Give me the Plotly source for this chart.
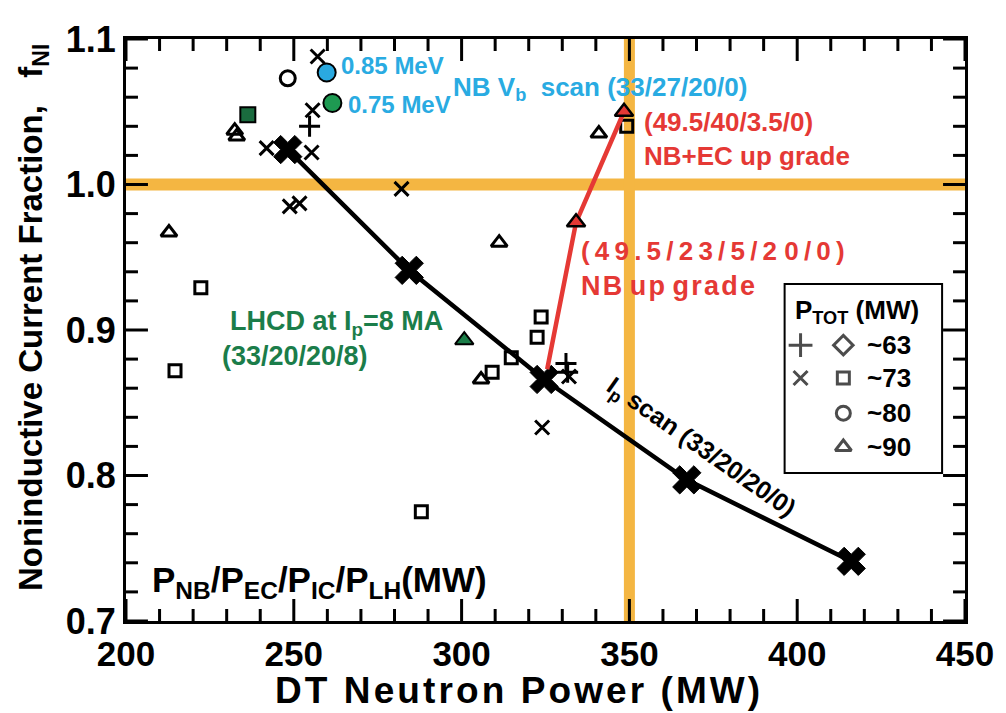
import plotly.graph_objects as go

FONT = "Liberation Sans, Arial, Helvetica, sans-serif"
BLACK = "#000000"
ORANGE = "#F4B642"
RED = "#E53935"
CYAN = "#29ABE2"
GREEN = "#1B7D4A"

# I_p scan (33/20/20/0)
ip_scan_x = [248.2, 284.4, 324.6, 367.1, 416.1]
ip_scan_y = [1.024, 0.941, 0.866, 0.797, 0.741]

# NB upgrade path (red)
nb_up_x = [325.5, 334.1, 348.4]
nb_up_y = [0.873, 0.974, 1.050]

# scattered database points by symbol
xmark_x = [257.1, 255.6, 241.9, 255.3, 248.8, 251.7, 282.1, 332.0, 324.0]
xmark_y = [1.088, 1.051, 1.025, 1.022, 0.985, 0.987, 0.997, 0.868, 0.833]

plus_x = [254.7, 331.1, 331.6]
plus_y = [1.040, 0.877, 0.871]

square_x = [349.2, 222.3, 214.6, 323.7, 322.5, 314.8, 309.1, 288.0]
square_y = [1.040, 0.929, 0.872, 0.909, 0.895, 0.881, 0.871, 0.775]

tri_x = [232.4, 233.0, 212.8, 311.2, 305.8, 340.9]
tri_y = [1.037, 1.033, 0.967, 0.960, 0.866, 1.035]

circle_x = [248.2]
circle_y = [1.073]

# NB Vb scan points
vb085_x, vb085_y = [259.8], [1.077]
vb075_x, vb075_y = [261.5], [1.056]

# LHCD points
lhcd_sq_x, lhcd_sq_y = [236.3], [1.048]
lhcd_tri_x, lhcd_tri_y = [300.8], [0.893]

# reference lines
target_fni = 1.0
target_power = 350

x_range = [200, 450]
y_range = [0.7, 1.1]
x_tick_step, x_minor_step = 50, 10
y_tick_step, y_minor_step = 0.1, 0.02

# legend
legend_rows = ["~63", "~73", "~80", "~90"]

W, HGT = 1006, 713
MARGIN = dict(l=126, r=39, t=39, b=92)
PLOT_W = W - MARGIN["l"] - MARGIN["r"]
PLOT_H = HGT - MARGIN["t"] - MARGIN["b"]

fig = go.Figure()

# inward ticks on all four sides (major + minor), drawn as one line trace;
# lengths in pixels are converted to axis units
MAJOR_LEN, MINOR_LEN, TICK_W = 22, 12, 3
DX = (x_range[1] - x_range[0]) / PLOT_W
DY = (y_range[1] - y_range[0]) / PLOT_H

def tick_list(lo, hi, step):
    n = int(round((hi - lo) / step))
    return [lo + i * step for i in range(n + 1)]

def is_major(v, lo, step):
    r = (v - lo) / step
    return abs(r - round(r)) < 1e-6

tick_x, tick_y = [], []
for v in tick_list(x_range[0], x_range[1], x_minor_step):
    L = MAJOR_LEN if is_major(v, x_range[0], x_tick_step) else MINOR_LEN
    tick_x += [v, v, None, v, v, None]
    tick_y += [y_range[0], y_range[0] + L * DY, None, y_range[1], y_range[1] - L * DY, None]
for v in tick_list(y_range[0], y_range[1], y_minor_step):
    L = MAJOR_LEN if is_major(v, y_range[0], y_tick_step) else MINOR_LEN
    tick_x += [x_range[0], x_range[0] + L * DX, None, x_range[1], x_range[1] - L * DX, None]
    tick_y += [v, v, None, v, v, None]

def open_markers(x, y, symbol, size, width=3):
    fig.add_trace(go.Scatter(
        x=x, y=y, mode="markers", showlegend=False, cliponaxis=False,
        marker=dict(symbol=symbol, size=size, color=BLACK,
                    line=dict(color=BLACK, width=width))))

open_markers(xmark_x, xmark_y, "x-thin-open", 14)
open_markers(plus_x, plus_y, "cross-thin-open", 15)
open_markers(square_x, square_y, "square-open", 12)
open_markers(tri_x, tri_y, "triangle-up-open", 14)
open_markers(circle_x, circle_y, "circle-open", 15)

# I_p scan line
fig.add_trace(go.Scatter(
    x=ip_scan_x, y=ip_scan_y, mode="lines+markers", showlegend=False,
    line=dict(color=BLACK, width=4.5),
    marker=dict(symbol="x", size=25, color=BLACK, line=dict(color=BLACK, width=1))))

# NB upgrade line
fig.add_trace(go.Scatter(
    x=nb_up_x, y=nb_up_y, mode="lines", showlegend=False,
    line=dict(color=RED, width=4.5)))
fig.add_trace(go.Scatter(
    x=nb_up_x[1:], y=nb_up_y[1:], mode="markers", showlegend=False,
    marker=dict(symbol="triangle-up", size=16, color=RED, line=dict(color=BLACK, width=2.5))))

def filled(x, y, symbol, size, color):
    fig.add_trace(go.Scatter(
        x=x, y=y, mode="markers", showlegend=False,
        marker=dict(symbol=symbol, size=size, color=color, line=dict(color=BLACK, width=2))))

filled(vb085_x, vb085_y, "circle", 18, "#2AA9E0")
filled(vb075_x, vb075_y, "circle", 18, "#1E9A52")
filled(lhcd_sq_x, lhcd_sq_y, "square", 15, "#1A6B3E")
filled(lhcd_tri_x, lhcd_tri_y, "triangle-up", 16, "#1A7D48")

# legend keys, placed by paper fraction and mapped through the axis ranges
def px(frac):
    return x_range[0] + frac * (x_range[1] - x_range[0])

def py(frac):
    return y_range[0] + frac * (y_range[1] - y_range[0])

leg_sym_fx = [0.804, 0.804, 0.855, 0.855, 0.855, 0.855]
leg_sym_fy = [0.474, 0.4175, 0.474, 0.4175, 0.357, 0.299]
leg_syms = ["cross-thin-open", "x-thin-open", "diamond-open", "square-open", "circle-open", "triangle-up-open"]
leg_sizes = [17, 14, 15, 12, 14, 14]
fig.add_trace(go.Scatter(
    x=[px(f) for f in leg_sym_fx], y=[py(f) for f in leg_sym_fy],
    mode="markers", showlegend=False,
    marker=dict(symbol=leg_syms, size=leg_sizes, color=BLACK,
                line=dict(color=BLACK, width=3))))

# axis ticks trace
fig.add_trace(go.Scatter(
    x=tick_x, y=tick_y, mode="lines", showlegend=False, hoverinfo="skip",
    connectgaps=False, cliponaxis=False,
    line=dict(color=BLACK, width=TICK_W)))

shapes = [
    dict(type="line", xref="x", yref="y", x0=x_range[0], x1=x_range[1], y0=target_fni, y1=target_fni,
         line=dict(color=ORANGE, width=12), layer="below"),
    dict(type="line", xref="x", yref="y", x0=target_power, x1=target_power, y0=y_range[0], y1=y_range[1],
         line=dict(color=ORANGE, width=11), layer="below"),
    dict(type="rect", xref="paper", yref="paper", x0=0.785, x1=0.9727, y0=0.2543, y1=0.579,
         line=dict(color=BLACK, width=2), fillcolor="white", layer="below"),
]

def ann(text, x, y, color, size, xanchor="left", yanchor="middle", xref="x", yref="y", angle=0, **kw):
    d = dict(text=text, x=x, y=y, xref=xref, yref=yref, showarrow=False,
             xanchor=xanchor, yanchor=yanchor, textangle=angle,
             font=dict(family=FONT, size=size, color=color, weight="bold"))
    d.update(kw)
    return d

T = "\u2009"
H = "\u200a"
annotations = [
    ann("0.85 MeV", 263.6, 1.082, CYAN, 24),
    ann("0.75 MeV", 265.7, 1.055, CYAN, 24),
    ann("NB V<sub>b</sub>  scan (33/27/20/0)", 296.9, 1.066, CYAN, 26),
    ann("(49.5/40/3.5/0)", 353.7, 1.043, RED, 26),
    ann("NB+EC up grade", 353.7, 1.0196, RED, 26),
    ann(T.join("(49.5/23/5/2") + " " + T.join("0/0)"), 335.0, 0.954, RED, 26),
    ann("N" + H + "B " + H.join("up") + " " + H.join("grade"), 335.0, 0.930, RED, 27),
    ann("LHCD at I<sub>p</sub>=8 MA", 230.3, 0.905, GREEN, 27),
    ann("(33/20/20/8)", 227.9, 0.882, GREEN, 27),
    ann("I<sub>p</sub> scan (33/20/20/0)", 371.2, 0.819, BLACK, 25, xanchor="center", angle=35),
    ann("P<sub>NB</sub>/P<sub>EC</sub>/P<sub>IC</sub>/P<sub>LH</sub>(MW)", 207.1, 0.727, BLACK, 35),
    # legend text
    ann("P<sub>TOT</sub> (MW)", 0.795, 0.532, BLACK, 26, xref="paper", yref="paper"),
    ann(legend_rows[0], 0.8811, 0.474, BLACK, 26, xref="paper", yref="paper"),
    ann(legend_rows[1], 0.8811, 0.4175, BLACK, 26, xref="paper", yref="paper"),
    ann(legend_rows[2], 0.8811, 0.357, BLACK, 26, xref="paper", yref="paper"),
    ann(legend_rows[3], 0.8811, 0.299, BLACK, 26, xref="paper", yref="paper"),
    # axis titles
    ann(H.join("DT Neutron Power (MW)"), 0.467, 0, BLACK, 37, xanchor="center",
        xref="paper", yref="paper", yshift=-69),
    ann("Noninductive Current Fraction,   f<sub>NI</sub>", 0, 0.5, BLACK, 33, xanchor="center",
        xref="paper", yref="paper", angle=-90, xshift=-93, yshift=12),
]

fig.update_layout(
    width=W, height=HGT,
    margin=MARGIN,
    paper_bgcolor="white", plot_bgcolor="white",
    xaxis=dict(range=x_range, tickmode="linear", tick0=x_range[0], dtick=x_tick_step,
               showline=True, linecolor=BLACK, linewidth=3, mirror=True, ticks="",
               showgrid=False, zeroline=False,
               tickfont=dict(family=FONT, size=35, color=BLACK, weight="bold")),
    yaxis=dict(range=y_range, tickmode="linear", tick0=y_range[0], dtick=y_tick_step, tickformat=".1f",
               showline=True, linecolor=BLACK, linewidth=3, mirror=True, ticks="",
               showgrid=False, zeroline=False,
               tickfont=dict(family=FONT, size=36, color=BLACK, weight="bold")),
    shapes=shapes, annotations=annotations, showlegend=False,
)

fig.write_html("out.html")
